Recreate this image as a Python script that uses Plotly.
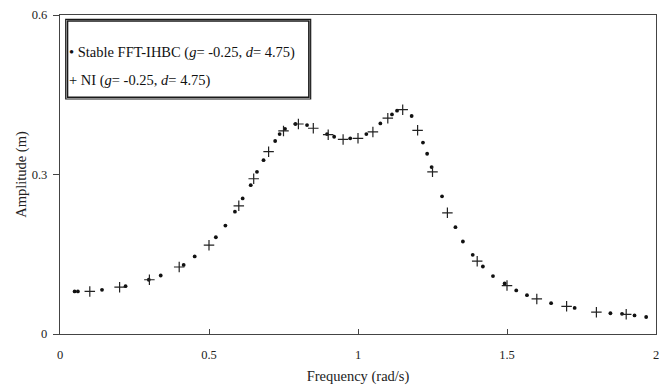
import plotly.graph_objects as go

# Stable FFT-IHBC (dots)
fft_freq = [0.049, 0.060, 0.141, 0.220, 0.298, 0.338, 0.415, 0.452, 0.523, 0.555,
            0.587, 0.613, 0.640, 0.661, 0.683, 0.722, 0.737, 0.755, 0.790, 0.829,
            0.896, 0.920, 0.974, 1.028, 1.075, 1.114, 1.131, 1.180, 1.218, 1.232,
            1.247, 1.282, 1.327, 1.352, 1.385, 1.419, 1.453, 1.492, 1.531, 1.567,
            1.648, 1.727, 1.847, 1.886, 1.928, 1.967]
fft_amp = [0.080, 0.080, 0.083, 0.090, 0.102, 0.110, 0.130, 0.146, 0.182, 0.204,
           0.230, 0.255, 0.280, 0.305, 0.327, 0.363, 0.376, 0.386, 0.395, 0.393,
           0.376, 0.371, 0.368, 0.376, 0.396, 0.413, 0.420, 0.410, 0.360, 0.339,
           0.314, 0.259, 0.201, 0.174, 0.149, 0.127, 0.109, 0.095, 0.082, 0.073,
           0.058, 0.049, 0.039, 0.038, 0.035, 0.032]

# NI (crosses)
ni_freq = [0.1, 0.2, 0.3, 0.4, 0.5, 0.6, 0.65, 0.7, 0.75, 0.8, 0.85, 0.9, 0.95,
           1.0, 1.05, 1.1, 1.15, 1.2, 1.25, 1.3, 1.4, 1.5, 1.6, 1.7, 1.8, 1.9]
ni_amp = [0.080, 0.088, 0.102, 0.126, 0.167, 0.241, 0.292, 0.343, 0.382, 0.395,
          0.387, 0.375, 0.366, 0.368, 0.380, 0.406, 0.422, 0.383, 0.305, 0.228,
          0.137, 0.091, 0.066, 0.052, 0.041, 0.037]

x_ticks = [0, 0.5, 1, 1.5, 2]
x_tick_labels = ["0", "0.5", "1", "1.5", "2"]
y_ticks = [0, 0.3, 0.6]
y_tick_labels = ["0", "0.3", "0.6"]

legend_fft = "\u2022 Stable FFT-IHBC (<i>g</i>= -0.25, <i>d</i>= 4.75)"
legend_ni = "+ NI (<i>g</i>= -0.25, <i>d</i>= 4.75)"

FONT = "Liberation Serif"
TXT = "#222222"

fig = go.Figure()
fig.add_trace(go.Scatter(
    x=fft_freq, y=fft_amp, mode="markers", name="Stable FFT-IHBC",
    marker=dict(symbol="circle", size=3.8, color="#111111", line=dict(width=0)),
    showlegend=False, hoverinfo="skip"))
fig.add_trace(go.Scatter(
    x=ni_freq, y=ni_amp, mode="markers", name="NI",
    marker=dict(symbol="cross-thin", size=7.5, color="#222222",
                line=dict(width=1.2, color="#222222")),
    showlegend=False, hoverinfo="skip"))

# page body has an 8px margin, so the figure is sized to fit the window
fig.update_layout(
    width=662, height=379,
    margin=dict(l=52, r=14, t=7, b=53),
    paper_bgcolor="white", plot_bgcolor="white",
    font=dict(family=FONT, color=TXT, size=12),
)
fig.update_xaxes(
    range=[0, 2], tickvals=x_ticks, ticktext=x_tick_labels,
    automargin=False,
    showgrid=False, zeroline=False,
    showline=True, linecolor="#444444", linewidth=1.3, mirror=True,
    ticks="inside", ticklen=5, tickwidth=1, tickcolor="#444444",
    tickfont=dict(family=FONT, size=12.5, color=TXT),
    ticklabelstandoff=9,
    title=dict(text="Frequency (rad/s)", font=dict(family=FONT, size=14.5, color=TXT), standoff=9),
)
fig.update_yaxes(
    range=[0, 0.6], tickvals=y_ticks, ticktext=y_tick_labels,
    automargin=False,
    showgrid=False, zeroline=False,
    showline=True, linecolor="#444444", linewidth=1.3, mirror=True,
    ticks="outside", ticklen=6, tickwidth=1, tickcolor="#444444",
    tickfont=dict(family=FONT, size=12.5, color=TXT),
    ticklabelstandoff=3,
    title=dict(text="Amplitude (m)", font=dict(family=FONT, size=14.5, color=TXT), standoff=1),
)

# legend box (double border) and legend texts
fig.add_shape(type="rect", xref="paper", yref="paper",
              x0=0.0096, x1=0.4206, y0=0.7367, y1=0.9865,
              line=dict(color="#1a1a1a", width=1.2), fillcolor="rgba(0,0,0,0)")
fig.add_shape(type="rect", xref="paper", yref="paper",
              x0=0.0126, x1=0.4176, y0=0.7422, y1=0.9810,
              line=dict(color="#1a1a1a", width=1.6), fillcolor="rgba(0,0,0,0)")
fig.add_annotation(xref="paper", yref="paper", x=0.0115, y=0.881,
                   xanchor="left", yanchor="middle", showarrow=False,
                   text=legend_fft, font=dict(family=FONT, size=14.5, color="#111111"))
fig.add_annotation(xref="paper", yref="paper", x=0.0115, y=0.796,
                   xanchor="left", yanchor="middle", showarrow=False,
                   text=legend_ni, font=dict(family=FONT, size=14.5, color="#111111"))

fig.write_html("out.html")
